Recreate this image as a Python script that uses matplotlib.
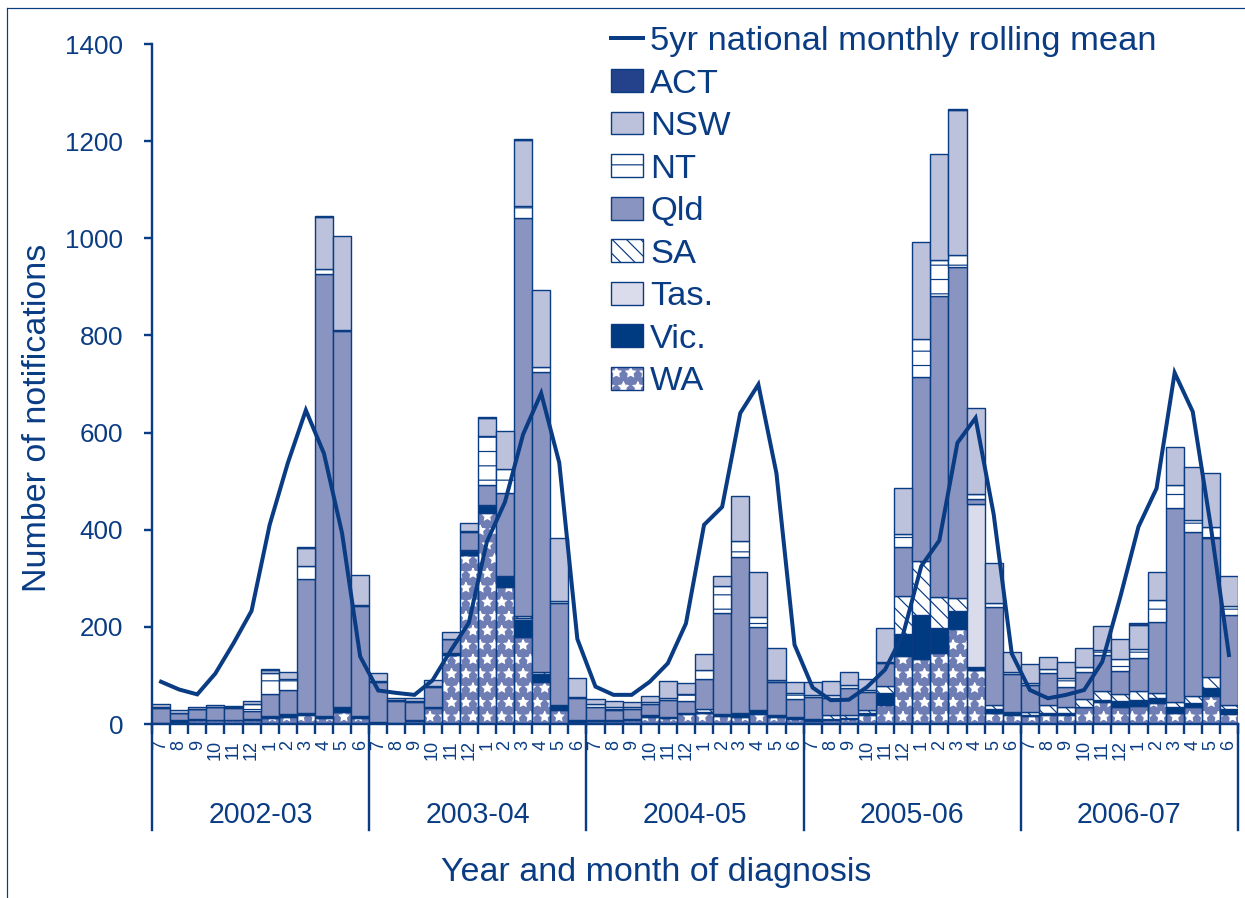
import matplotlib
matplotlib.use('Agg')
import matplotlib.pyplot as plt
from matplotlib.patches import Patch
from matplotlib.lines import Line2D
from matplotlib.legend_handler import HandlerTuple
import matplotlib.transforms as mtransforms
import numpy as np

plt.rcParams['font.family'] = ['Liberation Sans', 'DejaVu Sans']

DPI = 86
PT = 72.0 / DPI  # points per pixel
W, H = 1245, 898

# ---------------- data ----------------
years = ['2002-03', '2003-04', '2004-05', '2005-06', '2006-07']
month_labels = ['7', '8', '9', '10', '11', '12', '1', '2', '3', '4', '5', '6']

wa = [2, 5, 8, 8, 8, 8, 12, 15, 18, 12, 25, 12,
      3, 2, 7, 33, 143, 347, 434, 282, 180, 86, 29, 5,
      6, 6, 8, 14, 13, 20, 22, 16, 14, 20, 14, 10,
      6, 8, 10, 18, 40, 140, 134, 147, 196, 112, 22, 18,
      16, 19, 19, 34, 46, 34, 38, 43, 22, 36, 58, 21]
vic = [1, 3, 2, 1, 1, 2, 4, 5, 5, 5, 10, 4,
       2, 1, 2, 2, 4, 10, 14, 20, 34, 16, 10, 3,
       3, 3, 3, 2, 2, 3, 3, 4, 8, 9, 4, 4,
       4, 3, 3, 5, 24, 46, 90, 50, 37, 6, 8, 4,
       3, 3, 3, 2, 4, 14, 11, 10, 14, 8, 17, 9]
tas = [0, 0, 0, 0, 0, 0, 0, 0, 0, 0, 0, 0,
       0, 0, 0, 0, 0, 0, 0, 0, 5, 0, 0, 0,
       0, 0, 0, 0, 0, 0, 0, 0, 0, 0, 0, 0,
       0, 0, 0, 0, 0, 0, 0, 0, 0, 335, 0, 0,
       0, 0, 0, 0, 0, 0, 0, 0, 0, 0, 0, 0]
sa = [0, 0, 0, 0, 0, 0, 0, 0, 0, 0, 0, 0,
      0, 0, 0, 0, 0, 2, 3, 3, 3, 5, 0, 0,
      0, 0, 0, 2, 0, 0, 5, 0, 0, 0, 0, 0,
      0, 7, 5, 5, 14, 78, 111, 65, 27, 0, 10, 3,
      6, 17, 14, 15, 17, 14, 18, 10, 10, 14, 22, 9]
qld = [30, 14, 20, 25, 24, 16, 45, 50, 275, 910, 775, 227,
       82, 44, 37, 42, 27, 37, 42, 171, 820, 617, 211, 45,
       26, 20, 20, 24, 35, 24, 62, 208, 321, 171, 68, 38,
       45, 36, 57, 38, 47, 100, 380, 620, 680, 10, 200, 78,
       56, 65, 41, 57, 75, 47, 68, 147, 398, 338, 285, 185]
nt = [2, 1, 1, 1, 1, 16, 45, 22, 28, 9, 2, 1,
      2, 2, 2, 2, 2, 2, 100, 50, 25, 10, 3, 2,
      6, 6, 3, 4, 4, 14, 20, 57, 34, 20, 5, 12,
      5, 5, 6, 3, 2, 28, 77, 73, 25, 10, 10, 4,
      4, 10, 17, 10, 10, 25, 20, 45, 48, 24, 24, 18]
nsw = [6, 6, 5, 5, 4, 5, 6, 16, 36, 108, 193, 62,
       16, 5, 6, 12, 14, 16, 38, 78, 135, 160, 130, 40,
       11, 12, 11, 12, 34, 24, 33, 20, 92, 92, 65, 22,
       26, 30, 26, 24, 71, 93, 201, 218, 300, 178, 81, 42,
       39, 23, 33, 39, 50, 42, 49, 57, 78, 110, 110, 63]
act = [0, 0, 0, 0, 0, 0, 1, 0, 2, 1, 0, 0,
       0, 0, 0, 0, 0, 0, 2, 0, 3, 0, 0, 0,
       0, 0, 0, 0, 0, 0, 0, 0, 0, 0, 0, 0,
       0, 0, 0, 0, 0, 0, 0, 0, 2, 0, 0, 0,
       0, 0, 0, 0, 0, 0, 3, 0, 0, 0, 0, 0]
rolling_mean = [87, 71, 61, 104, 166, 233, 410, 537, 646, 557, 393, 139,
                69, 64, 60, 90, 151, 208, 375, 457, 596, 681, 538, 175,
                77, 60, 60, 87, 125, 207, 410, 447, 640, 699, 516, 163,
                75, 49, 50, 76, 112, 185, 325, 378, 579, 630, 432, 145,
                70, 53, 60, 70, 128, 262, 406, 485, 723, 643, 406, 142]

# ---------------- styles ----------------
NAVY = '#0a3c84'
C_ACT = '#24418b'
C_NSW = '#bcc1dc'
C_QLD = '#8a94c1'
C_TAS = '#dadcec'
C_VIC = '#003a80'
C_WA = '#6f7db5'

EDGE_LW = 1.4 * PT
WA_HATCH = '*'

fig = plt.figure(figsize=(W / DPI, H / DPI), dpi=DPI)
ax_l, ax_r, ax_t, ax_b = 152, 1238, 44, 724
ax = fig.add_axes([ax_l / W, 1 - ax_b / H, (ax_r - ax_l) / W, (ax_b - ax_t) / H])

n = len(wa)
x = np.arange(n) + 0.5
bottom = np.zeros(n)

# WA: fill with white sparkles, then navy outline
ax.bar(x, wa, bottom=bottom, width=1.0, facecolor=C_WA, edgecolor='white',
       hatch=WA_HATCH, linewidth=0, zorder=2)
ax.bar(x, wa, bottom=bottom, width=1.0, facecolor='none', edgecolor=NAVY,
       linewidth=EDGE_LW, zorder=3)
bottom += np.array(wa)

stack = [
    (vic, dict(facecolor=C_VIC, hatch=None)),
    (tas, dict(facecolor=C_TAS, hatch=None)),
    (sa, dict(facecolor='white', hatch='\\\\')),
    (qld, dict(facecolor=C_QLD, hatch=None)),
    (nt, dict(facecolor='white', hatch='-')),
    (nsw, dict(facecolor=C_NSW, hatch=None)),
    (act, dict(facecolor=C_ACT, hatch=None)),
]
for vals, st in stack:
    v = np.array(vals, dtype=float)
    mask = v > 0
    ax.bar(x[mask], v[mask], bottom=bottom[mask], width=1.0,
           facecolor=st['facecolor'], edgecolor=NAVY, hatch=st['hatch'],
           linewidth=EDGE_LW, zorder=3)
    bottom += v

ax.plot(x, rolling_mean, color=NAVY, linewidth=4.0 * PT, zorder=5,
        solid_joinstyle='miter')

# ---------------- axes ----------------
ax.set_xlim(0, n)
ax.set_ylim(0, 1400)
for s in ['top', 'right']:
    ax.spines[s].set_visible(False)
for s in ['left', 'bottom']:
    ax.spines[s].set_color(NAVY)
    ax.spines[s].set_linewidth(2.4 * PT)
ax.spines['bottom'].set_zorder(6)

ax.set_yticks(np.arange(0, 1401, 200))
ax.tick_params(axis='y', direction='out', length=8 * PT, width=2.4 * PT,
               color=NAVY, labelcolor=NAVY, labelsize=26 * PT, pad=21 * PT)

ax.set_xticks(np.arange(0, n + 1))
ax.set_xticklabels([])
ax.tick_params(axis='x', which='major', direction='out', length=10 * PT,
               width=2.4 * PT, color=NAVY)
ax.set_xticks(x, minor=True)
ax.set_xticklabels(month_labels * len(years), minor=True, rotation=90)
ax.tick_params(axis='x', which='minor', length=0, pad=16 * PT,
               labelcolor=NAVY, labelsize=18 * PT)

trans = mtransforms.blended_transform_factory(ax.transData, ax.transAxes)
ax_h = ax_b - ax_t
for k in range(len(years) + 1):
    ax.add_line(Line2D([12 * k, 12 * k], [0, -(830 - ax_b) / ax_h],
                       transform=trans, color=NAVY, linewidth=2.4 * PT,
                       clip_on=False, zorder=6))
for k, yr in enumerate(years):
    ax.text(12 * k + 6, -(815 - ax_b) / ax_h, yr, transform=trans,
            ha='center', va='center', color=NAVY, fontsize=28.5 * PT)

ax.set_xlabel('Year and month of diagnosis', color=NAVY, fontsize=34 * PT,
              va='center')
ax.xaxis.set_label_coords((656 - ax_l) / (ax_r - ax_l), -(872 - ax_b) / ax_h)
ax.set_ylabel('Number of notifications', color=NAVY, fontsize=34 * PT,
              va='center')
ax.yaxis.set_label_coords((38 - ax_l) / (ax_r - ax_l), (ax_b - 418) / ax_h)

# ---------------- legend ----------------
handles = [
    Line2D([], [], color=NAVY, linewidth=4.0 * PT),
    Patch(facecolor=C_ACT, edgecolor=NAVY, linewidth=EDGE_LW),
    Patch(facecolor=C_NSW, edgecolor=NAVY, linewidth=EDGE_LW),
    Patch(facecolor='white', edgecolor=NAVY, hatch='-', linewidth=EDGE_LW),
    Patch(facecolor=C_QLD, edgecolor=NAVY, linewidth=EDGE_LW),
    Patch(facecolor='white', edgecolor=NAVY, hatch='\\\\', linewidth=EDGE_LW),
    Patch(facecolor=C_TAS, edgecolor=NAVY, linewidth=EDGE_LW),
    Patch(facecolor=C_VIC, edgecolor=NAVY, linewidth=EDGE_LW),
    (Patch(facecolor=C_WA, edgecolor='white', hatch=WA_HATCH, linewidth=0),
     Patch(facecolor='none', edgecolor=NAVY, linewidth=EDGE_LW)),
]
labels = ['5yr national monthly rolling mean', 'ACT', 'NSW', 'NT', 'Qld',
          'SA', 'Tas.', 'Vic.', 'WA']
leg = ax.legend(handles, labels, loc='upper left',
                bbox_to_anchor=(611 / W, 1 - 26 / H),
                bbox_transform=fig.transFigure, frameon=False,
                fontsize=34.5 * PT, handlelength=0.93, handleheight=0.64,
                handletextpad=0.2, labelspacing=0.335, borderpad=0,
                borderaxespad=0,
                handler_map={tuple: HandlerTuple(ndivide=1, pad=0)})
for t in leg.get_texts():
    t.set_color(NAVY)
leg.set_zorder(10)

# thin frame lines (left and top)
fig.add_artist(Line2D([7 / W, 7 / W], [0, 1 - 8 / H], transform=fig.transFigure,
                      color=NAVY, linewidth=1.2 * PT))
fig.add_artist(Line2D([7 / W, 1], [1 - 8 / H, 1 - 8 / H], transform=fig.transFigure,
                      color=NAVY, linewidth=1.2 * PT))

fig.savefig('out.png', dpi=DPI)
